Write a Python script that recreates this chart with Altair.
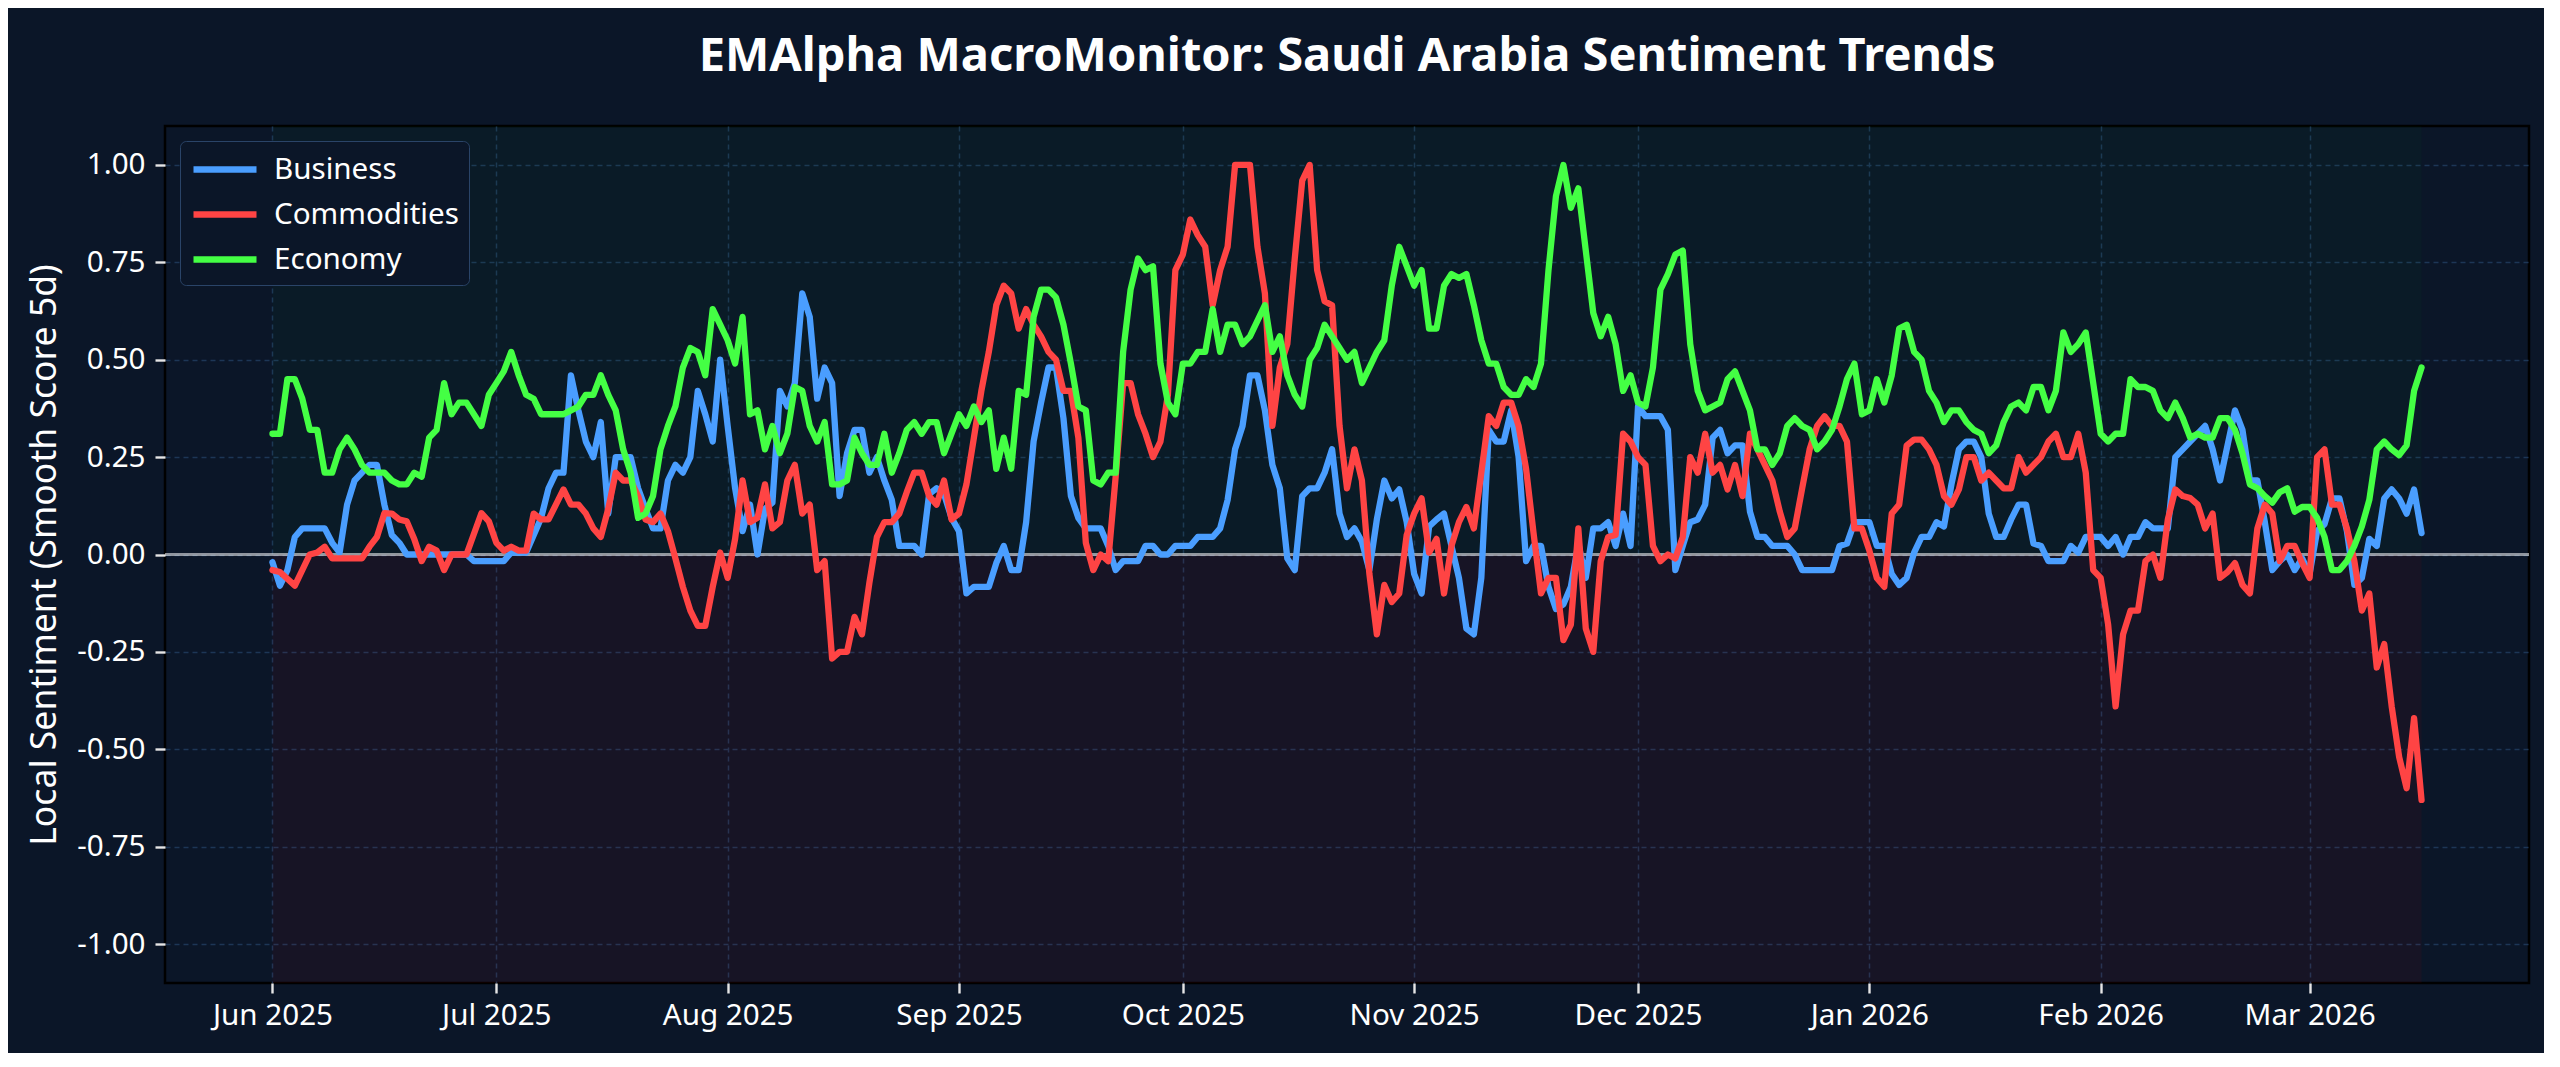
import altair as alt
import pandas as pd

# ---- data (day offsets from 2025-06-01) ----
business_days = [0,1,2,3,4,7,8,9,10,11,12,13,14,15,16,17,18,26,27,31,32,34,36,37,38,39,40,41,42,43,44,45,46,48,49,50,51,52,53,54,55,56,57,58,59,60,61,62,63,64,65,66,67,68,69,70,71,72,73,74,75,76,77,78,79,80,81,82,83,84,86,87,88,89,90,91,92,93,94,96,97,98,99,100,101,102,103,104,105,106,107,108,109,111,112,113,114,116,117,118,119,120,121,123,124,126,127,128,129,130,131,132,133,134,135,136,137,138,139,140,141,142,143,144,145,146,147,148,149,150,151,152,153,154,155,156,157,158,159,160,161,162,163,164,165,166,167,168,169,170,171,172,173,174,175,176,177,178,179,180,181,182,183,184,186,187,188,189,190,191,192,193,194,195,196,197,198,199,200,201,203,204,205,209,210,211,212,214,215,216,217,218,219,220,221,222,223,224,225,226,227,228,229,230,231,232,233,234,235,236,237,238,240,241,242,243,245,246,247,248,249,250,251,252,254,255,256,257,258,259,260,261,262,263,264,265,266,267,268,269,270,271,272,273,274,275,276,277,278,279,280,281,282,283,284,285,286,287,288]
business_vals = [-0.02,-0.08,-0.04,0.045,0.067,0.067,0.03,0.005,0.128,0.19,0.21,0.23,0.23,0.128,0.05,0.03,0.0,0.0,-0.017,-0.017,0.005,0.005,0.094,0.17,0.21,0.21,0.46,0.37,0.29,0.25,0.34,0.105,0.25,0.25,0.17,0.117,0.067,0.067,0.19,0.23,0.21,0.25,0.42,0.36,0.29,0.50,0.33,0.17,0.06,0.128,0.0,0.117,0.133,0.42,0.38,0.44,0.67,0.61,0.40,0.48,0.44,0.15,0.26,0.32,0.32,0.21,0.25,0.19,0.14,0.022,0.022,0.0,0.155,0.17,0.155,0.094,0.06,-0.10,-0.083,-0.083,-0.022,0.022,-0.04,-0.04,0.083,0.29,0.39,0.48,0.48,0.35,0.15,0.094,0.067,0.067,0.022,-0.04,-0.017,-0.017,0.022,0.022,0.0,0.0,0.022,0.022,0.045,0.045,0.067,0.14,0.27,0.33,0.46,0.46,0.37,0.23,0.17,-0.01,-0.04,0.15,0.17,0.17,0.21,0.27,0.105,0.045,0.067,0.033,-0.04,0.09,0.19,0.144,0.167,0.083,-0.05,-0.10,0.072,0.09,0.105,0.022,-0.06,-0.19,-0.205,-0.06,0.32,0.29,0.29,0.37,0.25,-0.017,0.022,0.022,-0.083,-0.14,-0.128,-0.083,0.028,-0.06,0.067,0.067,0.083,0.022,0.105,0.022,0.38,0.355,0.355,0.32,-0.04,0.022,0.083,0.09,0.128,0.30,0.32,0.26,0.28,0.28,0.11,0.045,0.045,0.022,0.022,0.0,-0.04,-0.04,0.022,0.028,0.083,0.083,0.022,0.022,-0.05,-0.078,-0.06,0.005,0.045,0.045,0.083,0.072,0.18,0.27,0.29,0.29,0.25,0.105,0.045,0.045,0.09,0.128,0.128,0.028,0.022,-0.017,-0.017,0.022,0.005,0.045,0.045,0.022,0.045,0.0,0.045,0.045,0.083,0.067,0.067,0.25,0.27,0.29,0.31,0.33,0.27,0.19,0.28,0.37,0.32,0.19,0.19,0.083,-0.04,-0.017,0.0,-0.04,-0.01,-0.05,0.06,0.078,0.144,0.144,0.06,-0.078,-0.06,0.04,0.022,0.144,0.167,0.144,0.105,0.167,0.055]

commod_days = [0,1,3,5,6,7,8,12,13,14,15,16,17,18,19,20,21,22,23,24,26,28,29,30,31,32,33,34,35,36,37,39,40,41,42,43,44,45,46,47,48,49,50,51,52,53,54,55,56,57,58,59,60,61,62,63,64,65,66,67,68,69,70,71,72,73,74,75,76,77,78,79,80,81,82,83,84,85,86,87,88,89,90,91,92,93,94,95,96,97,98,99,100,101,102,103,104,105,106,107,108,109,110,111,112,113,114,115,116,117,118,119,120,121,122,123,124,125,126,127,128,129,131,132,133,134,135,136,137,138,139,140,141,142,143,144,145,146,147,148,149,150,151,152,153,154,155,156,157,158,159,160,161,162,163,164,165,166,167,168,169,170,171,172,173,174,175,176,177,178,179,180,181,182,183,184,185,186,187,188,189,190,191,192,193,194,195,196,197,198,199,200,201,202,203,204,205,206,207,208,209,210,211,212,213,214,215,216,217,218,219,220,221,222,223,224,225,226,227,228,229,230,231,232,233,234,235,236,237,238,239,240,241,242,243,244,245,246,247,248,249,250,251,252,253,254,255,256,257,258,259,260,261,262,263,264,265,266,267,268,269,270,271,272,273,274,275,276,277,278,279,280,281,282,283,284,285,286,287,288]
commod_vals = [-0.04,-0.045,-0.08,0.0,0.005,0.02,-0.01,-0.01,0.02,0.045,0.106,0.105,0.09,0.085,0.04,-0.017,0.02,0.01,-0.04,0.0,0.0,0.106,0.085,0.03,0.01,0.02,0.01,0.01,0.105,0.09,0.09,0.167,0.128,0.128,0.105,0.067,0.045,0.117,0.21,0.19,0.19,0.15,0.09,0.083,0.105,0.06,-0.01,-0.083,-0.144,-0.183,-0.183,-0.083,0.005,-0.06,0.04,0.19,0.083,0.094,0.18,0.067,0.083,0.19,0.23,0.105,0.128,-0.04,-0.017,-0.267,-0.25,-0.25,-0.16,-0.205,-0.072,0.045,0.083,0.083,0.105,0.16,0.21,0.21,0.15,0.128,0.19,0.09,0.105,0.18,0.30,0.42,0.52,0.64,0.69,0.67,0.58,0.63,0.59,0.56,0.52,0.50,0.42,0.42,0.30,0.03,-0.04,0.0,-0.017,0.20,0.44,0.44,0.36,0.31,0.25,0.29,0.41,0.73,0.77,0.86,0.82,0.79,0.64,0.73,0.79,1.0,1.0,0.79,0.67,0.33,0.48,0.54,0.76,0.96,1.0,0.73,0.65,0.64,0.33,0.17,0.27,0.19,-0.05,-0.205,-0.078,-0.122,-0.10,0.05,0.105,0.144,0.005,0.04,-0.10,0.022,0.083,0.122,0.067,0.21,0.355,0.33,0.39,0.39,0.33,0.22,0.055,-0.10,-0.06,-0.06,-0.22,-0.18,0.067,-0.19,-0.25,-0.017,0.045,0.05,0.31,0.29,0.25,0.23,0.022,-0.017,0.0,-0.01,0.045,0.25,0.21,0.31,0.21,0.23,0.167,0.23,0.15,0.31,0.27,0.23,0.19,0.11,0.045,0.067,0.17,0.27,0.33,0.355,0.33,0.33,0.29,0.067,0.067,0.01,-0.06,-0.083,0.105,0.128,0.28,0.295,0.295,0.27,0.23,0.15,0.128,0.167,0.25,0.25,0.19,0.21,0.19,0.17,0.17,0.25,0.21,0.23,0.25,0.29,0.31,0.25,0.25,0.31,0.21,-0.04,-0.06,-0.18,-0.39,-0.205,-0.144,-0.144,-0.017,0.0,-0.06,0.09,0.167,0.15,0.145,0.128,0.067,0.105,-0.06,-0.045,-0.022,-0.078,-0.10,0.067,0.128,0.105,-0.017,0.022,0.022,-0.022,-0.06,0.25,0.27,0.128,0.128,0.067,-0.017,-0.144,-0.10,-0.29,-0.23,-0.39,-0.52,-0.60,-0.42,-0.63]

economy_days = [0,1,2,3,4,5,6,7,8,9,10,11,12,13,15,16,17,18,19,20,21,22,23,24,25,26,28,29,30,31,32,33,34,35,36,39,40,41,42,43,44,45,46,47,48,49,50,51,52,53,54,55,56,57,58,59,60,61,62,63,64,65,66,67,68,69,70,71,72,73,74,75,76,77,78,79,80,81,82,83,84,85,86,87,88,89,90,91,92,93,94,95,96,97,98,99,100,101,102,103,104,105,106,107,108,109,110,111,112,113,114,115,116,117,118,119,120,121,122,123,124,125,126,127,128,129,130,131,133,134,135,136,137,138,139,140,141,142,143,144,145,146,147,148,149,150,151,152,153,154,155,156,157,158,159,160,161,162,163,164,165,166,167,168,169,170,171,172,173,174,175,176,177,178,179,180,181,182,183,184,185,186,187,188,189,190,191,192,193,194,195,196,197,198,199,200,201,202,203,204,205,206,207,208,209,210,211,212,213,214,215,216,217,218,219,220,221,222,223,224,225,226,227,228,229,230,231,232,233,234,235,236,237,238,239,240,241,242,243,244,245,246,247,248,249,250,251,252,253,254,255,256,257,258,259,260,261,262,263,264,265,266,267,268,269,270,271,272,273,274,275,276,277,278,279,280,281,282,283,284,285,286,287,288]
economy_vals = [0.31,0.31,0.45,0.45,0.40,0.32,0.32,0.21,0.21,0.27,0.30,0.27,0.23,0.21,0.21,0.19,0.18,0.18,0.21,0.20,0.30,0.32,0.44,0.36,0.39,0.39,0.33,0.41,0.44,0.47,0.52,0.46,0.41,0.40,0.36,0.36,0.37,0.38,0.41,0.41,0.46,0.41,0.37,0.27,0.21,0.094,0.105,0.15,0.27,0.33,0.38,0.48,0.53,0.52,0.46,0.63,0.59,0.55,0.49,0.61,0.36,0.37,0.27,0.33,0.26,0.31,0.43,0.42,0.33,0.29,0.34,0.18,0.18,0.19,0.30,0.26,0.23,0.23,0.31,0.21,0.26,0.32,0.34,0.31,0.34,0.34,0.26,0.31,0.36,0.33,0.38,0.34,0.37,0.22,0.30,0.22,0.42,0.41,0.61,0.68,0.68,0.66,0.59,0.49,0.38,0.37,0.19,0.18,0.21,0.21,0.52,0.68,0.76,0.73,0.74,0.49,0.39,0.36,0.49,0.49,0.52,0.52,0.63,0.52,0.59,0.59,0.54,0.56,0.64,0.52,0.56,0.46,0.41,0.38,0.50,0.53,0.59,0.56,0.53,0.50,0.52,0.44,0.48,0.52,0.55,0.69,0.79,0.74,0.69,0.73,0.58,0.58,0.69,0.72,0.71,0.72,0.64,0.55,0.49,0.49,0.43,0.41,0.41,0.45,0.43,0.49,0.73,0.92,1.0,0.89,0.94,0.78,0.62,0.56,0.61,0.54,0.42,0.46,0.39,0.38,0.48,0.68,0.72,0.77,0.78,0.54,0.42,0.37,0.38,0.39,0.45,0.47,0.42,0.37,0.27,0.27,0.23,0.26,0.33,0.35,0.33,0.32,0.27,0.29,0.32,0.38,0.45,0.49,0.36,0.37,0.45,0.39,0.46,0.58,0.59,0.52,0.50,0.42,0.39,0.34,0.37,0.37,0.34,0.32,0.31,0.26,0.28,0.34,0.38,0.39,0.37,0.43,0.43,0.37,0.42,0.57,0.52,0.54,0.57,0.44,0.31,0.29,0.31,0.31,0.45,0.43,0.43,0.42,0.37,0.35,0.39,0.35,0.30,0.31,0.30,0.30,0.35,0.35,0.32,0.26,0.18,0.17,0.15,0.133,0.16,0.17,0.11,0.122,0.122,0.094,0.045,-0.04,-0.04,-0.017,0.022,0.072,0.14,0.27,0.29,0.27,0.255,0.28,0.42,0.48]

series_names = ["Business", "Commodities", "Economy"]
series_colors = ["#4A9EFF", "#FF4444", "#44FF44"]
month_ticks = [(2025, 6), (2025, 7), (2025, 8), (2025, 9), (2025, 10), (2025, 11),
               (2025, 12), (2026, 1), (2026, 2), (2026, 3)]
y_ticks = [-1.0, -0.75, -0.5, -0.25, 0.0, 0.25, 0.5, 0.75, 1.0]

base = pd.Timestamp("2025-06-01")
frames = []
for name, days, vals in [("Business", business_days, business_vals),
                         ("Commodities", commod_days, commod_vals),
                         ("Economy", economy_days, economy_vals)]:
    frames.append(pd.DataFrame({
        "date": base + pd.to_timedelta(days, unit="D"),
        "value": vals,
        "series": name,
    }))
df = pd.concat(frames, ignore_index=True)

span_start = base
span_end = base + pd.Timedelta(days=288)
shade = pd.DataFrame({"start": [span_start], "end": [span_end]})

FONT = "Noto Sans"
xscale = alt.Scale(domain=[alt.DateTime(year=2025, month=5, date=17, hours=14, minutes=24),
                           alt.DateTime(year=2026, month=3, date=30, hours=9, minutes=36)])
yscale = alt.Scale(domain=[-1.1, 1.1], nice=False, zero=False)

grid_common = dict(grid=True, gridDash=[5, 4], gridColor="#1d3656", gridWidth=1.5,
                   domain=False, tickColor="#e6e6e6", tickWidth=2.4, tickSize=10,
                   labelColor="#ffffff", labelFont=FONT, labelFontSize=29.6)

xaxis = alt.Axis(values=[alt.DateTime(year=y, month=m, date=1) for y, m in month_ticks],
                 format="%b %Y", title=None, labelPadding=8, labelFlush=False,
                 labelOverlap=False, **grid_common)
yaxis = alt.Axis(values=y_ticks,
                 labelExpr="(datum.value < 0 ? '-' : '') + format(abs(datum.value), '.2f')",
                 title="Local Sentiment (Smooth Score 5d)", titleFont=FONT,
                 titleFontSize=35.6, titleFontWeight="normal", titleColor="#ffffff",
                 titlePadding=14, labelPadding=10, **grid_common)

pos = alt.Chart(shade).mark_rect(color="#00ff00", opacity=0.025).encode(
    x=alt.X("start:T", scale=xscale, axis=xaxis),
    x2="end:T",
    y=alt.Y(datum=0, scale=yscale, axis=yaxis),
    y2=alt.datum(1.1),
)
neg = alt.Chart(shade).mark_rect(color="#ff0000", opacity=0.05).encode(
    x=alt.X("start:T", scale=xscale, axis=xaxis),
    x2="end:T",
    y=alt.Y(datum=-1.1, scale=yscale, axis=yaxis),
    y2=alt.datum(0),
)
zero = alt.Chart(shade).mark_rule(color="#ffffff", opacity=0.55, strokeWidth=3).encode(
    y=alt.Y(datum=0, scale=yscale, axis=yaxis)
)
lines = alt.Chart(df).mark_line(strokeWidth=6.3, strokeJoin="round", strokeCap="round").encode(
    x=alt.X("date:T", scale=xscale, axis=xaxis),
    y=alt.Y("value:Q", scale=yscale, axis=yaxis),
    color=alt.Color("series:N",
                    scale=alt.Scale(domain=series_names, range=series_colors),
                    legend=alt.Legend(title=None, orient="top-left", offset=15,
                                      symbolType="M-1,0H3.2", symbolSize=900,
                                      symbolStrokeWidth=6.3, labelFont=FONT,
                                      labelFontSize=29.6, labelColor="#ffffff",
                                      labelLimit=500, labelOffset=47, rowPadding=11,
                                      padding=10, fillColor="#0b1628",
                                      strokeColor="#2a4468", cornerRadius=6)),
    order=alt.Order("date:T"),
)

chart = alt.layer(pos, neg, zero, lines).properties(
    width=2364, height=857,
    title=alt.TitleParams("EMAlpha MacroMonitor: Saudi Arabia Sentiment Trends",
                          font=FONT, fontSize=47, fontWeight="bold", color="#ffffff",
                          anchor="middle", frame="group", offset=8, baseline="alphabetic"),
    autosize=alt.AutoSizeParams(type="none"),
    padding={"left": 157, "top": 118, "right": 15, "bottom": 70},
).configure(background="#0b1628").configure_view(stroke="#000000", strokeWidth=2.5)

chart.save("out.html", embed_options={"renderer": "svg", "actions": False})
